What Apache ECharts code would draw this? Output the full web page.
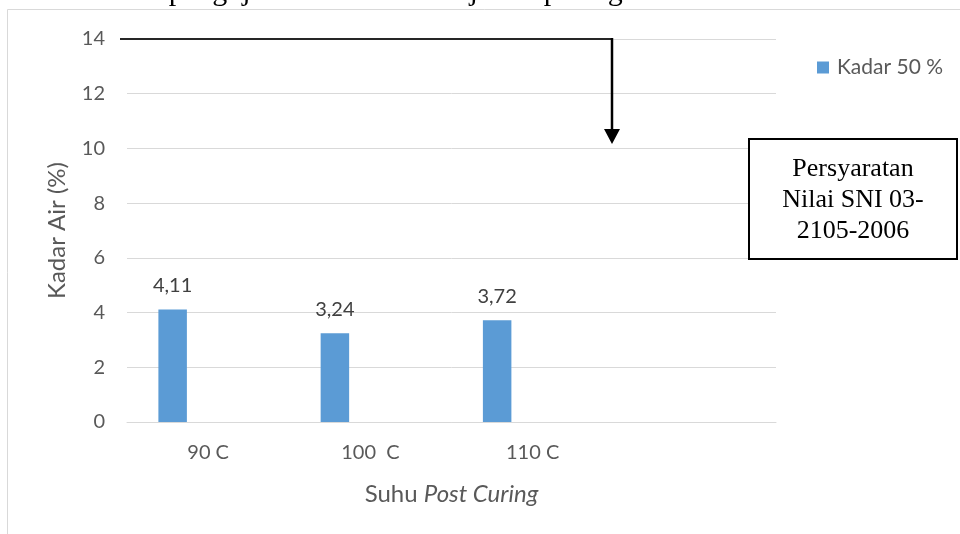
<!DOCTYPE html>
<html>
<head>
<meta charset="utf-8">
<title>Kadar Air</title>
<script src="https://cdn.jsdelivr.net/npm/echarts@6/dist/echarts.min.js"></script>
<style>
  html, body { margin: 0; padding: 0; background: #ffffff; }
  #chart { width: 960px; height: 534px; }
</style>
</head>
<body>
<div id="chart"></div>
<script>
// Post-curing temperatures (fourth slot left empty, as in the original sheet)
const categories = ['90 C', '100  C', '110 C', ''];
// Moisture content, 50 % series
const kadar50 = [4.11, 3.24, 3.72, null];
// Unused companion series that keeps the bar slot layout
const placeholder = [null, null, null, null];
// Y axis ticks
const yTicks = { min: 0, max: 14, step: 2 };
// Requirement line value and note
const snLimit = 14;
const noteLines = ['Persyaratan', 'Nilai SNI 03-', '2105-2006'];

const chart = echarts.init(document.getElementById('chart'), null, { renderer: 'canvas' });

const sans = 'Lato, "Open Sans", sans-serif';
const serif = '"Liberation Serif", "DejaVu Serif", serif';

const option = {
  backgroundColor: '#ffffff',
  animation: false,
  grid: { left: 127, right: 184, top: 39, bottom: 112, containLabel: false },
  legend: {
    data: ['Kadar 50 %'],
    left: 817, top: 57,
    padding: 0,
    itemWidth: 12, itemHeight: 12, itemGap: 10,
    icon: 'rect',
    textStyle: { fontFamily: sans, fontSize: 21, color: '#595959', padding: [0, 0, 0, 3] }
  },
  xAxis: {
    type: 'category',
    data: categories,
    name: 'Suhu {i|Post Curing}',
    nameLocation: 'middle',
    nameGap: 60,
    nameTextStyle: {
      fontFamily: sans, fontSize: 24, color: '#595959',
      rich: { i: { fontFamily: sans, fontSize: 24, color: '#595959', fontStyle: 'italic' } }
    },
    axisLine: { show: true, lineStyle: { color: '#d9d9d9', width: 1 } },
    axisTick: { show: false },
    axisLabel: { fontFamily: sans, fontSize: 20, color: '#595959', margin: 21 }
  },
  yAxis: {
    type: 'value',
    min: yTicks.min, max: yTicks.max, interval: yTicks.step,
    name: 'Kadar Air (%)',
    nameLocation: 'middle',
    nameGap: 58,
    nameTextStyle: { fontFamily: sans, fontSize: 24, color: '#595959' },
    axisLine: { show: false },
    axisTick: { show: false },
    axisLabel: { fontFamily: sans, fontSize: 20, color: '#595959', margin: 22 },
    splitLine: { lineStyle: { color: '#d9d9d9', width: 1 } }
  },
  series: [
    {
      name: 'Kadar 50 %',
      type: 'bar',
      data: kadar50,
      barWidth: 28.5,
      barGap: '149%',
      itemStyle: { color: '#5b9bd5' },
      label: {
        show: true,
        position: 'top',
        distance: 14,
        fontFamily: sans, fontSize: 20, color: '#404040',
        formatter: p => (p.value == null ? '' : p.value.toFixed(2).replace('.', ','))
      }
    },
    {
      name: 'Kadar lain',
      type: 'bar',
      data: placeholder,
      barWidth: 28.5,
      itemStyle: { color: '#ed7d31' }
    }
  ]
};

chart.setOption(option);

// Annotation: requirement arrow and note box, anchored to the value axis
const yLimit = chart.convertToPixel({ yAxisIndex: 0 }, snLimit);
const arrowX = 612;
const arrowTip = 144;

chart.setOption({
  graphic: [
    // chart frame
    { type: 'rect', shape: { x: 7.5, y: 9.5, width: 1000, height: 600 },
      style: { fill: null, stroke: '#d9d9d9', lineWidth: 1 }, silent: true },
    // running text above the chart (only its lower part is visible)
    { type: 'text', left: 98, top: -23,
      style: { text: 'Hasil pengujian kadar air ditunjukan pada gambar', font: '30px ' + serif, fill: '#000000' } },
    // horizontal requirement line at the SNI limit
    { type: 'line', shape: { x1: 120, y1: yLimit, x2: arrowX, y2: yLimit },
      style: { stroke: '#262626', lineWidth: 2 }, z: 10 },
    // vertical drop to the arrow head
    { type: 'line', shape: { x1: arrowX, y1: yLimit - 1, x2: arrowX, y2: arrowTip - 14 },
      style: { stroke: '#000000', lineWidth: 2.5 }, z: 10 },
    { type: 'polygon', shape: { points: [[arrowX - 8, arrowTip - 15], [arrowX + 8, arrowTip - 15], [arrowX, arrowTip]] },
      style: { fill: '#000000' }, z: 10 },
    // note box
    { type: 'rect', shape: { x: 749, y: 139, width: 208, height: 120 },
      style: { fill: '#ffffff', stroke: '#000000', lineWidth: 2 }, z: 10 },
    { type: 'text', x: 853, y: 200, z: 11,
      style: { text: noteLines.join('\n'), font: '26px ' + serif, fill: '#000000',
               align: 'center', verticalAlign: 'middle', lineHeight: 31 } }
  ]
});
</script>
</body>
</html>
